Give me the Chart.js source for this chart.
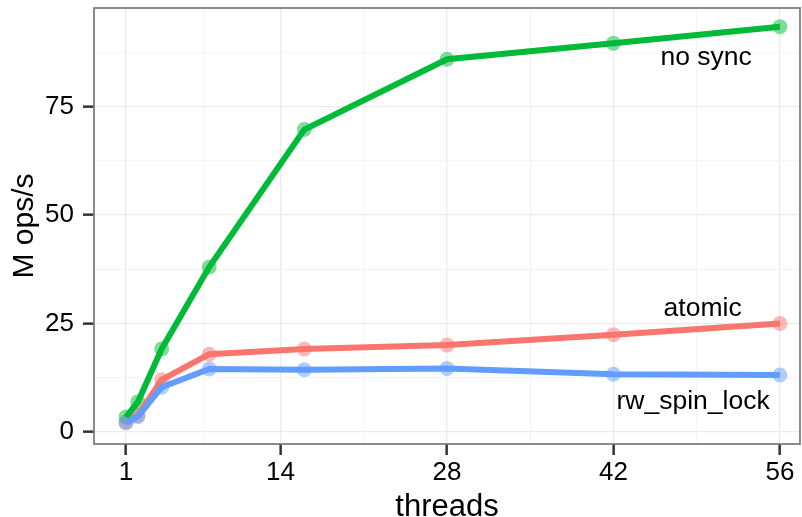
<!DOCTYPE html>
<html>
<head>
<meta charset="utf-8">
<script src="https://cdn.jsdelivr.net/npm/chart.js@4"></script>
<style>
  html, body { margin: 0; padding: 0; background: #fff; }
</style>
</head>
<body>
<canvas id="grafica" width="802" height="517"></canvas>
<script>
const threads = [1, 2, 4, 8, 16, 28, 42, 56];
const noSync = [3.4, 6.9, 19.1, 38.0, 69.7, 85.9, 89.6, 93.4];
const atomic = [2.2, 3.8, 12.0, 17.9, 19.1, 20.0, 22.4, 25.0];
const rwSpinLock = [2.1, 3.5, 10.3, 14.5, 14.3, 14.6, 13.3, 13.1];

const xTicks = [1, 14, 28, 42, 56];
const xMinor = [7.5, 21, 35, 49];
const yTicks = [0, 25, 50, 75];
const yMinor = [12.5, 37.5, 62.5, 87.5];

// text labels placed next to the lines (data units)
const seriesNames = ["no sync", "atomic", "rw_spin_lock"];
const nameX = [49.8, 49.5, 48.7];
const nameY = [86.2, 28.3, 6.9];

const FONT = "'Liberation Sans', Arial, Helvetica, sans-serif";

const pts = vals => threads.map((t, i) => ({ x: t, y: vals[i] }));

function lineSet(vals, color, order) {
  return {
    data: pts(vals), borderColor: color, borderWidth: 6,
    pointRadius: 0, fill: false, tension: 0, order: order
  };
}
function pointSet(vals, color, order) {
  return {
    data: pts(vals), showLine: false, pointRadius: 7.5, pointHoverRadius: 7.5,
    pointBackgroundColor: color, pointBorderWidth: 0, order: order
  };
}

function tickList(major, minor) {
  return major.map(v => ({ value: v }))
    .concat(minor.map(v => ({ value: v, minor: true })))
    .sort((a, b) => a.value - b.value);
}

const gridColor = ctx => ctx.tick && ctx.tick.minor ? "#f5f5f5" : "#ebebeb";
const tickColor = ctx => ctx.tick && ctx.tick.minor ? "rgba(0,0,0,0)" : "#333";

const panelBox = {
  id: "panelBox",
  afterDatasetsDraw(chart) {
    const c = chart.ctx, a = chart.chartArea;
    const x = chart.scales.x, y = chart.scales.y;
    c.save();
    c.font = "26.5px " + FONT;
    c.fillStyle = "#000";
    c.textAlign = "center";
    c.textBaseline = "middle";
    seriesNames.forEach((n, i) => {
      c.fillText(n, x.getPixelForValue(nameX[i]), y.getPixelForValue(nameY[i]));
    });
    c.strokeStyle = "#7f7f7f";
    c.lineWidth = 1.8;
    c.strokeRect(a.left, a.top, a.right - a.left, a.bottom - a.top);
    c.restore();
  }
};

new Chart(document.getElementById("grafica").getContext("2d"), {
  type: "line",
  data: {
    datasets: [
      lineSet(rwSpinLock, "#619CFF", 1),
      lineSet(noSync, "#00BA38", 2),
      lineSet(atomic, "#F8766D", 3),
      pointSet(rwSpinLock, "rgba(97,156,255,0.5)", 4),
      pointSet(noSync, "rgba(0,186,56,0.5)", 5),
      pointSet(atomic, "rgba(248,118,109,0.5)", 6)
    ]
  },
  options: {
    responsive: false,
    animation: false,
    layout: { autoPadding: false, padding: { top: 8, right: 2, left: 0, bottom: 0 } },
    plugins: { legend: { display: false }, tooltip: { enabled: false } },
    scales: {
      x: {
        type: "linear", min: -1.69, max: 57.69,
        afterBuildTicks: s => { s.ticks = tickList(xTicks, xMinor); },
        afterFit: s => { s.height = 73; s.paddingLeft = 0; s.paddingRight = 0; },
        border: { display: false },
        grid: { color: gridColor, lineWidth: 1.3, tickColor: tickColor, tickLength: 11, tickWidth: 2.5 },
        ticks: {
          autoSkip: false, maxRotation: 0, padding: 2.4, color: "#000",
          font: { family: FONT, size: 26 },
          callback: v => xMinor.includes(v) ? "" : v
        },
        title: {
          display: true, text: "threads", color: "#000",
          font: { family: FONT, size: 31, lineHeight: 0.82 },
          padding: { top: 0, bottom: -3 }
        }
      },
      y: {
        type: "linear", min: -2.8, max: 97.7,
        afterBuildTicks: s => { s.ticks = tickList(yTicks, yMinor); },
        afterFit: s => { s.width = 94; s.paddingTop = 0; s.paddingBottom = 0; },
        border: { display: false },
        grid: { color: gridColor, lineWidth: 1.3, tickColor: tickColor, tickLength: 11, tickWidth: 2.5 },
        ticks: {
          autoSkip: false, padding: 9, color: "#000",
          font: { family: FONT, size: 26 },
          callback: v => yMinor.includes(v) ? "" : v
        },
        title: {
          display: true, text: "M ops/s", color: "#000",
          font: { family: FONT, size: 30, lineHeight: 1 },
          padding: { top: 9.6, bottom: 0 }
        }
      }
    }
  },
  plugins: [panelBox]
});
</script>
</body>
</html>
